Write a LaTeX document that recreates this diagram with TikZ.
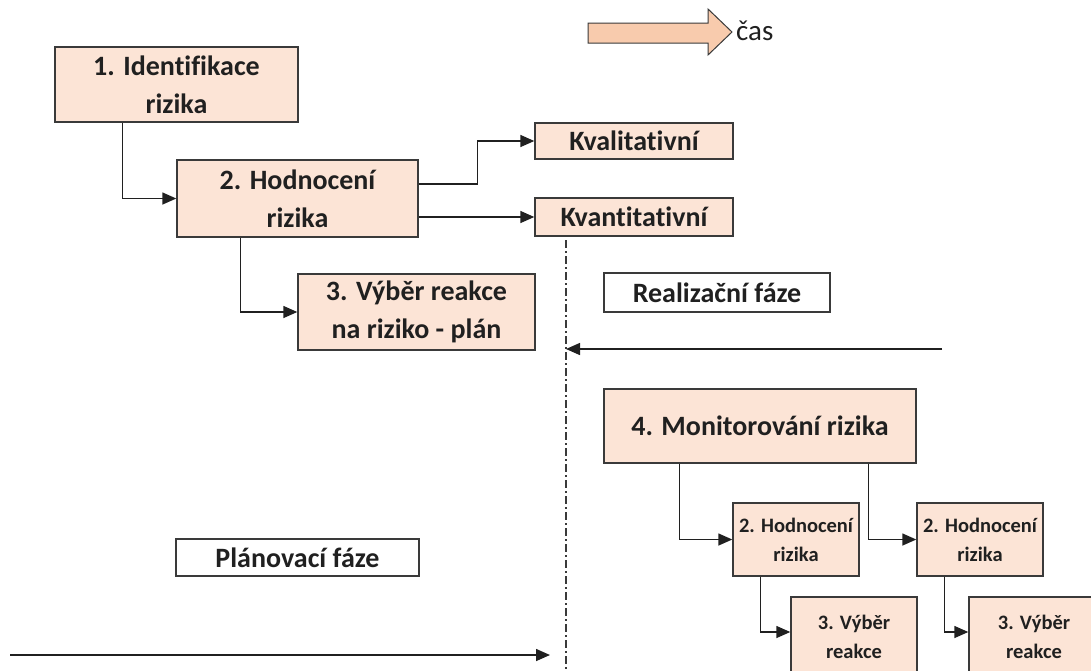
\documentclass[tikz,border=0pt]{standalone}
\usepackage{fontspec}
\setmainfont{Carlito}[Ligatures=NoCommon]
\usetikzlibrary{arrows.meta}
\definecolor{peach}{HTML}{FCE4D6}
\definecolor{arrfill}{HTML}{F8CBAD}
\definecolor{edge}{HTML}{3A3A3A}
\definecolor{ink}{HTML}{202020}
\begin{document}
\begin{tikzpicture}[x=1pt,y=-1pt,
  box/.style={draw=edge, line width=1.4pt, fill=peach, align=center, inner sep=0pt, text=ink,
    font=\fontsize{28}{38}\selectfont\bfseries},
  smallbox/.style={box, font=\fontsize{20.5}{29}\selectfont\bfseries},
  phase/.style={box, fill=white},
  conn/.style={draw=ink, line width=1.5pt, -{Triangle[length=14pt,width=12pt]}},
  divider/.style={draw=edge, line width=1.4pt, dash pattern=on 8pt off 3pt on 2pt off 3pt}
]
\useasboundingbox (0,0) rectangle (1091,670);
\clip (0,0) rectangle (1091,670);

% time arrow
\draw[fill=arrfill, draw=edge, line width=1pt] (588,23) -- (708,23) -- (708,9) -- (732,32) -- (708,55) -- (708,43) -- (588,43) -- cycle;
\node[anchor=west, inner sep=0pt, text=ink, font=\fontsize{29}{32}\selectfont] (cas) at (736,31) {čas};

% planning boxes
\node[box, minimum width=243pt, minimum height=75pt] (ident) at (176.5,84.5) {1. Identifikace\\rizika};
\node[box, minimum width=241pt, minimum height=77pt] (hodn) at (297.5,198.5) {2. Hodnocení\\rizika};
\node[box, minimum width=198pt, minimum height=36pt] (kval) at (634,141) {Kvalitativní};
\node[box, minimum width=198pt, minimum height=38pt] (kvant) at (634,217) {Kvantitativní};
\node[box, minimum width=237pt, minimum height=76pt] (plan) at (416.5,312) {3. Výběr reakce\\na riziko - plán};

\node[phase, minimum width=226pt, minimum height=39pt] (real) at (717,292.5) {Realizační fáze};
\node[phase, minimum width=243pt, minimum height=37pt] (planf) at (297.5,557.5) {Plánovací fáze};

% realisation boxes
\node[box, minimum width=312pt, minimum height=74pt] (mon) at (760,426) {4. Monitorování rizika};
\node[smallbox, minimum width=126pt, minimum height=73pt] (h2a) at (796,539.5) {2. Hodnocení\\rizika};
\node[smallbox, minimum width=126pt, minimum height=73pt] (h2b) at (980,539.5) {2. Hodnocení\\rizika};
\node[smallbox, minimum width=126pt, minimum height=80pt] (v3a) at (854,637) {3. Výběr\\reakce};
\node[smallbox, minimum width=130pt, minimum height=80pt] (v3b) at (1034,637) {3. Výběr\\reakce};

% connectors
\draw[conn] ([xshift=68pt]ident.south west) |- (hodn.west);
\draw[conn] ([yshift=14.5pt]hodn.east) -- ++(59,0) |- (kval.west);
\draw[conn] (hodn.east |- kvant.west) -- (kvant.west);
\draw[conn] ([xshift=64pt]hodn.south west) |- (plan.west);
\draw[conn] ([xshift=76pt]mon.south west) |- (h2a.west);
\draw[conn] ([xshift=265pt]mon.south west) |- (h2b.west);
\draw[conn] ([xshift=28pt]h2a.south west) |- ([yshift=5pt]v3a.west);
\draw[conn] ([xshift=28pt]h2b.south west) |- ([yshift=5pt]v3b.west);

% divider and phase arrows
\coordinate (dtop) at (566,240);
\coordinate (dbot) at (566,670);
\draw[divider] (dtop) -- (dbot);
\coordinate (rstart) at (942,349);
\coordinate (rend) at (566,349);
\draw[conn] (rstart) -- (rend);
\coordinate (lstart) at (10,655);
\coordinate (lend) at (550,655);
\draw[conn] (lstart) -- (lend);
\end{tikzpicture}
\end{document}
